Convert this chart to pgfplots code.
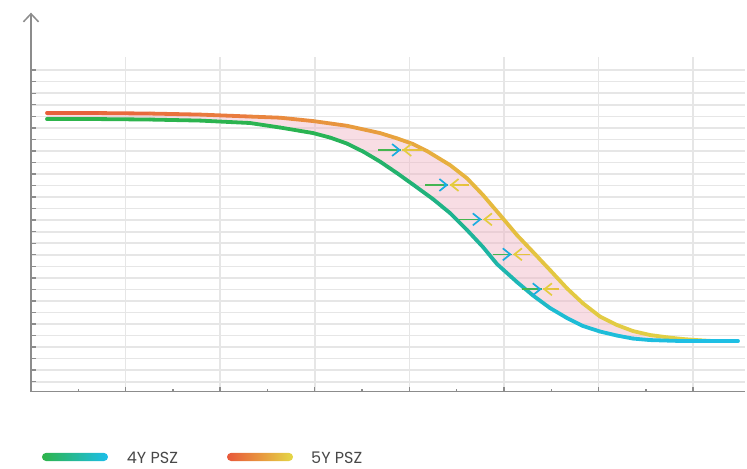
\documentclass[border=0pt]{standalone}
\usepackage{pgfplots}
\pgfplotsset{compat=1.18}
\usepackage{pgfplotstable}
\usepgfplotslibrary{fillbetween}
\usetikzlibrary{arrows.meta}
\usepackage{fontspec}
\setmainfont{Poppins}
\definecolor{axisgray}{RGB}{140,140,140}
\definecolor{gridgray}{RGB}{230,230,230}
\definecolor{txt}{RGB}{72,72,72}
\definecolor{pinkfill}{RGB}{240,180,196}
\definecolor{g1}{RGB}{46,180,74}
\definecolor{c1}{RGB}{28,190,234}
\definecolor{r1}{RGB}{232,88,58}
\definecolor{o1}{RGB}{232,150,62}
\definecolor{y1}{RGB}{228,216,70}
\definecolor{arrblue}{RGB}{26,172,224}
\definecolor{arryel}{RGB}{228,204,62}
\pgfplotsset{
 colormap={lowmap}{rgb255(0pt)=(46,180,74); rgb255(30pt)=(42,180,82); rgb255(40pt)=(34,178,115); rgb255(48pt)=(30,180,160); rgb255(56pt)=(30,188,212); rgb255(75pt)=(30,192,232)},
 colormap={upmap}{rgb255(0pt)=(232,88,58); rgb255(20pt)=(233,122,62); rgb255(38pt)=(232,162,62); rgb255(48pt)=(230,185,62); rgb255(56pt)=(227,200,66); rgb255(75pt)=(224,212,72)},
 colormap={arrL}{rgb255(0pt)=(70,182,74); rgb255(10pt)=(26,172,224)},
 colormap={arrR}{rgb255(0pt)=(228,204,62); rgb255(5pt)=(232,150,62); rgb255(10pt)=(232,90,58)},
}
\pgfplotstableread{
x y
0.169 23.76
0.729 23.76
1.258 23.72
1.786 23.63
2.315 23.42
2.632 23.03
2.981 22.55
3.161 22.16
3.340 21.64
3.510 20.95
3.689 20.08
3.869 19.08
4.038 18.09
4.249 16.83
4.429 15.62
4.609 14.15
4.778 12.67
4.926 11.20
5.137 9.64
5.307 8.47
5.486 7.39
5.666 6.52
5.835 5.83
6.015 5.35
6.195 5.00
6.364 4.74
6.543 4.61
6.860 4.53
7.474 4.53
}\lowdata
\pgfplotstableread{
x y
0.169 24.28
0.729 24.28
1.258 24.24
1.786 24.15
2.315 23.98
2.632 23.88
2.981 23.59
3.340 23.18
3.689 22.55
3.869 22.09
4.038 21.60
4.186 20.99
4.429 19.78
4.609 18.63
4.778 17.18
4.958 15.45
5.137 13.71
5.307 12.24
5.486 10.68
5.666 9.09
5.835 7.79
6.015 6.65
6.195 5.91
6.364 5.39
6.543 5.05
6.723 4.85
6.892 4.70
7.072 4.59
7.199 4.53
}\updata
\begin{document}
\begin{tikzpicture}
\begin{axis}[
  x=94.6bp, y=11.54bp,
  xmin=0, xmax=7.55, ymin=0.15, ymax=29.14,
  axis lines=left,
  axis line style={draw=none},
  clip=false,
  tick align=inside,
  xtick={1,...,7},
  minor xtick={0.5,1.5,...,6.5},
  ytick={1,...,28},
  xticklabel=\empty, yticklabel=\empty,
  major tick length=5bp, minor tick length=3bp,
  tick style={color=axisgray, line width=1.4bp},
  grid=major,
  major grid style={color=gridgray, line width=1.6bp},
]
\addplot[draw=none, name path=U] table[x=x,y=y]{\updata};
\addplot[draw=none, name path=L] table[x=x,y=y]{\lowdata};
\addplot[fill=pinkfill, fill opacity=0.45, draw=none] fill between[of=U and L];

\addplot[mesh, colormap name=upmap, point meta=x, point meta min=0, point meta max=7.5, line width=3.8bp, line cap=round] table[x=x,y=y]{\updata};
\addplot[mesh, colormap name=lowmap, point meta=x, point meta min=0, point meta max=7.5, line width=3.8bp, line cap=round] table[x=x,y=y]{\lowdata};

% arrow shafts (left, pointing right)
\addplot[mesh, colormap name=arrL, point meta=explicit, point meta min=0, point meta max=1, line width=1.6bp] coordinates {(3.671,21.08)[0] (3.751,21.08)[0.33] (3.831,21.08)[0.67] (3.911,21.08)[1]};
\addplot[mesh, colormap name=arrL, point meta=explicit, point meta min=0, point meta max=1, line width=1.6bp] coordinates {(4.165,18.05)[0] (4.247,18.05)[0.33] (4.329,18.05)[0.67] (4.411,18.05)[1]};
\addplot[mesh, colormap name=arrL, point meta=explicit, point meta min=0, point meta max=1, line width=1.6bp] coordinates {(4.524,15.07)[0] (4.604,15.07)[0.33] (4.684,15.07)[0.67] (4.764,15.07)[1]};
\addplot[mesh, colormap name=arrL, point meta=explicit, point meta min=0, point meta max=1, line width=1.6bp] coordinates {(4.880,12.04)[0] (4.947,12.04)[0.33] (5.014,12.04)[0.67] (5.081,12.04)[1]};
\addplot[mesh, colormap name=arrL, point meta=explicit, point meta min=0, point meta max=1, line width=1.6bp] coordinates {(5.187,9.01)[0] (5.257,9.01)[0.33] (5.327,9.01)[0.67] (5.398,9.01)[1]};
% arrow shafts (right, pointing left)
\addplot[mesh, colormap name=arrR, point meta=explicit, point meta min=0, point meta max=1, line width=1.6bp] coordinates {(3.926,21.08)[0] (3.998,21.08)[0.33] (4.070,21.08)[0.67] (4.141,21.08)[1]};
\addplot[mesh, colormap name=arrR, point meta=explicit, point meta min=0, point meta max=1, line width=1.6bp] coordinates {(4.426,18.05)[0] (4.494,18.05)[0.33] (4.562,18.05)[0.67] (4.630,18.05)[1]};
\addplot[mesh, colormap name=arrR, point meta=explicit, point meta min=0, point meta max=1, line width=1.6bp] coordinates {(4.779,15.07)[0] (4.853,15.07)[0.33] (4.927,15.07)[0.67] (5.000,15.07)[1]};
\addplot[mesh, colormap name=arrR, point meta=explicit, point meta min=0, point meta max=1, line width=1.6bp] coordinates {(5.096,12.04)[0] (5.156,12.04)[0.33] (5.216,12.04)[0.67] (5.275,12.04)[1]};
\addplot[mesh, colormap name=arrR, point meta=explicit, point meta min=0, point meta max=1, line width=1.6bp] coordinates {(5.413,9.01)[0] (5.470,9.01)[0.33] (5.528,9.01)[0.67] (5.585,9.01)[1]};
% arrow heads
\addplot[color=arrblue, line width=1.7bp, quiver={u=0.04,v=0}, -{Straight Barb[length=7.5bp,width=12bp]}] coordinates {(3.871,21.08) (4.371,18.05) (4.724,15.07) (5.041,12.04) (5.358,9.01)};
\addplot[color=arryel, line width=1.7bp, quiver={u=-0.04,v=0}, -{Straight Barb[length=7.5bp,width=12bp]}] coordinates {(3.966,21.08) (4.466,18.05) (4.819,15.07) (5.136,12.04) (5.453,9.01)};

% axis lines
\draw[color=axisgray, line width=1.8bp] (axis cs:0,0.15) -- (axis cs:7.55,0.15);
\draw[color=axisgray, line width=1.8bp, -{Straight Barb[length=8bp,width=15bp,line width=1.5bp]}] (axis cs:0,0.15) -- (axis cs:0,32.98);

% legend
\shade[left color=g1, right color=c1, rounded corners=4bp] (axis cs:0.116,-5.87) rectangle (axis cs:0.814,-5.17);
\node[anchor=base west, inner sep=0pt, text=txt, font=\fontsize{16bp}{17bp}\selectfont] at (axis cs:1.012,-6.10) {4Y PSZ};
\shade[left color=r1, right color=y1, middle color=o1, rounded corners=4bp] (axis cs:2.072,-5.87) rectangle (axis cs:2.770,-5.17);
\node[anchor=base west, inner sep=0pt, text=txt, font=\fontsize{16bp}{17bp}\selectfont] at (axis cs:2.960,-6.10) {5Y PSZ};

\path (axis cs:-0.3277,-6.478) rectangle (axis cs:7.569,34.08);
\end{axis}
\end{tikzpicture}
\end{document}
